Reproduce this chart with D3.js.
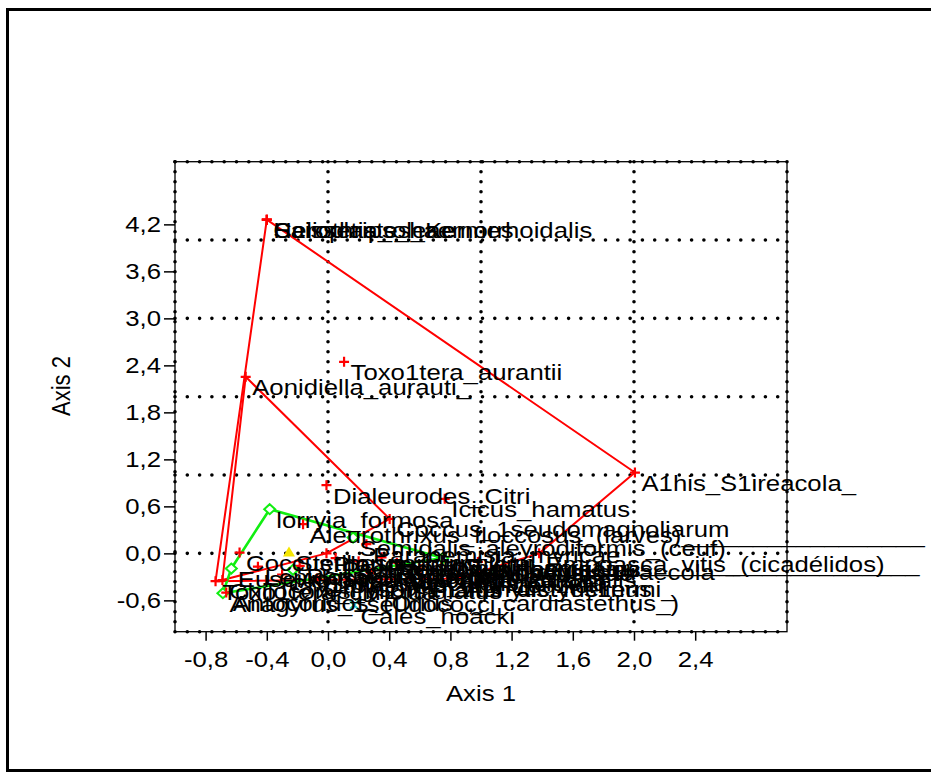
<!DOCTYPE html>
<html>
<head>
<meta charset="utf-8">
<script src="https://cdn.jsdelivr.net/npm/d3@7"></script>
<style>
  body { margin: 0; background: #fff; }
  text { font-family: "Liberation Sans", Arial, sans-serif; fill: #000; }
</style>
</head>
<body>
<svg id="chart" width="931" height="779"></svg>
<script>
// ticks and grid
const xTicks = [-0.8, -0.4, 0, 0.4, 0.8, 1.2, 1.6, 2.0, 2.4];
const yTicks = [-0.6, 0, 0.6, 1.2, 1.8, 2.4, 3.0, 3.6, 4.2];
const gridX = [0, 1, 2];
const gridY = [0, 1, 2, 3, 4];

// ordination scores
const species = [
  'Heliothrips_haemorrhoidalis', 'Saissetia_oleae', 'Ceroplastes_Kermes',
  'Toxo1tera_aurantii', 'Aonidiella_aurauti_', 'A1his_S1ireacola_',
  'Dialeurodes_Citri', 'Icicus_hamatus', 'lorryia_formosa',
  'Aleurothrixus_floccosus_(larves)_________________',
  'Coccus_1seudomagnoliarum', 'Semidalis_aleyrodiformis_(ceuf)',
  'Parabemisia_myricae', 'Planococcus_citri___________________________',
  'Coccus_hesperidum', 'Stethorus_1unctillum', 'Lepidosaphes_beckii',
  'Parlatoria_1ergandei', 'Amblyseius_californicus', 'Euseius_stipulatus',
  'Anagyrus_1seudococci', 'Toxo1tera_citricida',
  'Antocóridos_(Orius_,__cardiastethus_)', 'Chilocorus_bi1ustulatus',
  'Orius_laevigatus', 'Empoasca_vitis_(cicadélidos)',
  'Aphytis_melinus', 'Pseudococcus_longis1inus',
  'Unaspis_yanonensis', 'Panonychus_citri', 'Tetranychus_urticae',
  'Chrysom1halus_dictyos1ermi_', 'A1hidius_s1iraecola', 'Cales_noacki',
  'Rodolia_cardinalis', 'Phyllocnistis_citrella', 'Cry1tolaemus_montrouzieri'
];
const axis1 = [
  -0.40, -0.40, -0.40, 0.105, -0.538, 2.006, -0.01, 0.763, -0.381, -0.163,
  0.403, 0.164, 0.251, -0.01, -0.578, -0.255, -0.458, -0.185, -0.229, -0.632,
  -0.687, -0.735, -0.665, -0.69, 0.75, 1.38, 0.85, 0.05, 0.2, 0.35,
  0.45, -0.07, 0.98, 0.17, 0.6, 0.28, -0.3
];
const axis2 = [
  4.26, 4.26, 4.26, 2.445, 2.254, 1.032, 0.871, 0.696, 0.564, 0.373,
  0.44, 0.202, 0.117, 0.0, 0.01, 0.01, -0.17, -0.16, -0.21, -0.194,
  -0.508, -0.355, -0.50, -0.34, -0.06, 0.0, -0.32, -0.06, -0.1, -0.05,
  -0.12, -0.32, -0.11, -0.66, -0.2, -0.25, -0.27
];
const marker = [
  'plus', 'plus', 'plus', 'plus', 'plus', 'plus', 'plus', 'plus', 'diamond', 'plus',
  'plus', 'diamond', 'plus', 'plus', 'plus', 'triangle', 'plus', 'plus', 'diamond', 'diamond',
  'diamond', 'plus', 'plus', 'plus', 'diamond', 'plus', 'plus', 'plus', 'plus', 'plus',
  'plus', 'plus', 'plus', 'cross', 'plus', 'plus', 'plus'
];
const hull = [
  'A', 'A', 'A', 'A', 'B', 'A', 'A', 'A', 'G', 'B',
  'B', 'G', 'A', 'B', 'B', '', 'A', 'A', 'G', 'G',
  'G', 'A', '', 'B', 'G', 'A', 'A', 'A', 'A', 'A',
  'A', 'A', 'A', '', 'A', 'A', 'A'
];

const SX = 1.17;      // glyphs in the picture are stretched sideways
const FS = 22;

const svg = d3.select('#chart');

svg.append('rect')
  .attr('x', 7.5).attr('y', 9.5).attr('width', 960).attr('height', 761)
  .attr('fill', 'none').attr('stroke', '#000').attr('stroke-width', 3);

const x = d3.scaleLinear().domain([-1, 3]).range([175, 787]);
const y = d3.scaleLinear().domain([-1, 5]).range([631.7, 161.7]);

// dotted grid
const grid = svg.append('g')
  .attr('stroke', '#000').attr('stroke-width', 3.6).attr('stroke-linecap', 'round');
grid.selectAll('.gx').data(gridX.concat([-1, 3])).join('line')
  .attr('x1', d => x(d)).attr('x2', d => x(d))
  .attr('y1', y(5)).attr('y2', y(-1))
  .attr('stroke-dasharray', '0 10');
grid.selectAll('.gy').data(gridY.concat([-1, 5])).join('line')
  .attr('x1', x(-1)).attr('x2', x(3))
  .attr('y1', d => y(d)).attr('y2', d => y(d))
  .attr('stroke-dasharray', '0 12.3');

svg.append('rect')
  .attr('x', x(-1)).attr('y', y(5))
  .attr('width', x(3) - x(-1)).attr('height', y(-1) - y(5))
  .attr('fill', 'none').attr('stroke', '#000').attr('stroke-width', 1.3);

const fmt = d => d3.format('.1f')(d).replace('.', ',').replace('−', '-');

const yAxis = svg.append('g')
  .attr('transform', `translate(${x(-1)},0)`)
  .call(d3.axisLeft(y).tickValues(yTicks).tickSize(11).tickPadding(3).tickFormat(fmt));
const xAxis = svg.append('g')
  .attr('transform', `translate(0,${y(-1)})`)
  .call(d3.axisBottom(x).tickValues(xTicks).tickSize(9).tickPadding(11).tickFormat(fmt));

[xAxis, yAxis].forEach(g => {
  g.select('.domain').remove();
  g.selectAll('.tick line').attr('stroke', '#000').attr('stroke-width', 1.5);
  g.selectAll('.tick text')
    .attr('font-size', FS)
    .attr('font-family', '"Liberation Sans", Arial, sans-serif')
    .attr('fill', '#000')
    .each(function() {
      const t = d3.select(this);
      const tx = +t.attr('x') || 0;
      t.attr('x', 0).attr('transform', `translate(${tx},0) scale(${SX},1)`);
    });
});

svg.append('text')
  .attr('transform', `translate(${(x(-1) + x(3)) / 2},701) scale(${SX},1)`)
  .attr('text-anchor', 'middle').attr('font-size', FS)
  .text('Axis 1');
svg.append('text')
  .attr('transform', `translate(70,386) rotate(-90) scale(1,${SX})`)
  .attr('text-anchor', 'middle').attr('font-size', FS)
  .text('Axis 2');

// points in pixel space
const pts = species.map((name, i) => ({
  name, px: x(axis1[i]), py: y(axis2[i]), marker: marker[i], hull: hull[i]
}));

const hullColor = { A: '#ff0000', B: '#ff0000', G: '#11ee11' };
const hullWidth = { A: 2, B: 2, G: 2.6 };
const closed = d3.line().curve(d3.curveLinearClosed);

['A', 'B', 'G'].forEach(h => {
  const members = pts.filter(p => p.hull === h).map(p => [p.px, p.py]);
  const poly = d3.polygonHull(members);
  svg.append('path')
    .attr('d', closed(poly))
    .attr('fill', 'none')
    .attr('stroke', hullColor[h])
    .attr('stroke-width', hullWidth[h])
    .attr('stroke-linejoin', 'round');
});

const shapes = {
  plus: 'M-5,0H5M0,-5V5',
  diamond: 'M0,-5L5.5,0L0,5L-5.5,0Z',
  triangle: 'M0,-6L6,4L-6,4Z',
  cross: 'M-4,-4L4,4M-4,4L4,-4'
};

svg.append('g').selectAll('path')
  .data(pts)
  .join('path')
    .attr('transform', d => `translate(${d.px},${d.py})`)
    .attr('d', d => shapes[d.marker])
    .attr('fill', d => d.marker === 'diamond' ? '#fff' : d.marker === 'triangle' ? '#f5e600' : 'none')
    .attr('stroke', d => d.marker === 'plus' ? '#ff0000'
      : d.marker === 'diamond' ? '#11ee11'
      : d.marker === 'cross' ? '#22cccc' : 'none')
    .attr('stroke-width', d => d.marker === 'plus' ? 2.2 : 2);

svg.append('g').selectAll('text')
  .data(pts)
  .join('text')
    .attr('transform', d => `translate(${d.px + 6.5},${d.py + 18.5}) scale(${SX},1)`)
    .attr('font-size', FS)
    .text(d => d.name);
</script>
</body>
</html>
